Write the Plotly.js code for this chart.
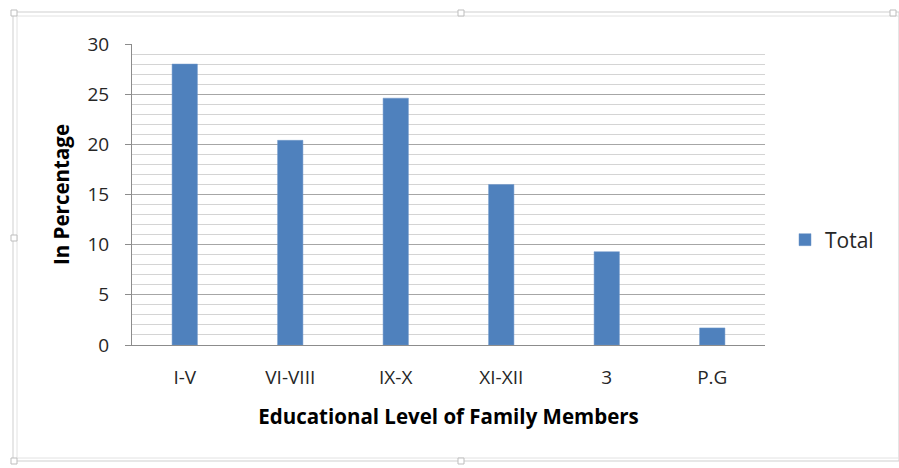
<!DOCTYPE html>
<html>
<head>
<meta charset="utf-8">
<script src="https://cdn.plot.ly/plotly-3.0.1.min.js"></script>
<style>
html,body{margin:0;padding:0;background:#fff;}
#chart{width:899px;height:468px;}
</style>
</head>
<body>
<div id="chart"></div>
<script>
const categories = ["I-V", "VI-VIII", "IX-X", "XI-XII", "3", "P.G"];
const totals = [28.0, 20.4, 24.6, 16.0, 9.3, 1.7];
const seriesName = "Total";
const yTicks = [0, 5, 10, 15, 20, 25, 30];

const L = 132, R = 765, T = 44, B = 345;
const W = R - L, H = B - T;
function px(x) { return (x - L) / W; }
function py(y) { return (B - y) / H; }

const frameColor = '#cfcfcf';
const shapes = [
  {type:'rect', xref:'paper', yref:'paper', x0:px(13), x1:px(899), y0:py(461), y1:py(12), line:{color:frameColor, width:1}, fillcolor:'rgba(0,0,0,0)', layer:'below'},
  {type:'rect', xref:'paper', yref:'paper', x0:px(17), x1:px(899), y0:py(458), y1:py(16), line:{color:'#e2e2e2', width:1}, fillcolor:'rgba(0,0,0,0)', layer:'below'}
];
const handles = [[14,13],[461,13],[893,13],[14,238],[14,461],[461,461]];
handles.forEach(function(h){
  shapes.push({type:'rect', xref:'paper', yref:'paper', x0:px(h[0]-3), x1:px(h[0]+3), y0:py(h[1]+3), y1:py(h[1]-3), line:{color:'#bdbdbd', width:1}, fillcolor:'#ffffff'});
});

const trace = {
  type: 'bar',
  x: categories,
  y: totals,
  name: seriesName,
  marker: {color: '#4F81BD', line: {color: '#6f97c8', width: 0.5}},
  showlegend: true,
  hoverinfo: 'x+y'
};

const font = '"Open Sans", Lato, sans-serif';

const layout = {
  width: 899, height: 468,
  margin: {l: L, r: 899 - R, t: T, b: 468 - B, pad: 0},
  paper_bgcolor: '#ffffff',
  plot_bgcolor: '#ffffff',
  font: {family: font, color: '#262626', size: 19},
  bargap: 0.76,
  showlegend: true,
  legend: {x: px(785), y: py(240), xanchor: 'left', yanchor: 'middle', itemwidth: 30, font: {size: 21, color: '#262626', family: font}, bgcolor: 'rgba(0,0,0,0)'},
  xaxis: {
    type: 'category',
    showline: true, linecolor: '#8c8c8c', linewidth: 1,
    ticks: '', showgrid: false,
    tickfont: {size: 19, color: '#262626'},
    ticklabelstandoff: 15,
    title: {text: 'Educational Level of Family Members', font: {size: 20.5, color: '#000000', family: font, weight: 'bold'}, standoff: 20},
    fixedrange: true
  },
  yaxis: {
    range: [0, 30],
    tickvals: yTicks,
    ticktext: yTicks.map(String),
    showline: true, linecolor: '#8c8c8c', linewidth: 1,
    ticks: 'outside', ticklen: 6, tickcolor: '#8c8c8c',
    showgrid: true, gridcolor: '#a6a6a6', gridwidth: 1,
    zeroline: false,
    minor: {dtick: 1, showgrid: true, gridcolor: '#d4d4d4', gridwidth: 1, ticks: ''},
    tickfont: {size: 19, color: '#262626'},
    ticklabelstandoff: 12,
    title: {text: 'In Percentage', font: {size: 20.5, color: '#000000', family: font, weight: 'bold'}, standoff: 12},
    fixedrange: true
  },
  shapes: shapes
};

Plotly.newPlot('chart', [trace], layout, {displayModeBar: false, staticPlot: true});
</script>
</body>
</html>
